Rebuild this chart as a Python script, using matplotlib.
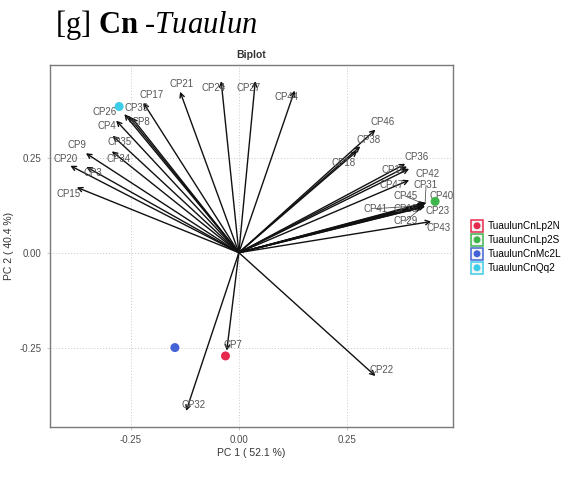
import numpy as np
import matplotlib
matplotlib.use("Agg")
import matplotlib.pyplot as plt
from matplotlib.legend_handler import HandlerBase
from matplotlib.patches import Rectangle, Circle

plt.rcParams['font.family'] = ['Liberation Sans', 'DejaVu Sans']
plt.rcParams['mathtext.fontset'] = 'custom'
plt.rcParams['mathtext.rm'] = 'Liberation Serif'
plt.rcParams['mathtext.bf'] = 'Liberation Serif:bold'
plt.rcParams['mathtext.it'] = 'Liberation Serif:italic'

# sample scores (PC1, PC2)
samples = ['TuaulunCnLp2N', 'TuaulunCnLp2S', 'TuaulunCnMc2L', 'TuaulunCnQq2']
sample_pc1 = [-0.031, 0.454, -0.148, -0.277]
sample_pc2 = [-0.272, 0.135, -0.250, 0.385]
sample_colors = ['#E8294F', '#3DB54A', '#4463D6', '#3CCDE8']

# variable loadings
variables = ['CP17', 'CP21', 'CP24', 'CP27', 'CP44', 'CP26', 'CP39', 'CP8', 'CP4',
             'CP35', 'CP9', 'CP34', 'CP20', 'CP3', 'CP15', 'CP46', 'CP38', 'CP18',
             'CP36', 'CP11', 'CP42', 'CP47', 'CP31', 'CP45', 'CP40', 'CP41', 'CP19',
             'CP23', 'CP29', 'CP43', 'CP7', 'CP32', 'CP22']
load_pc1 = [-0.221, -0.136, -0.041, 0.038, 0.129, -0.265, -0.256, -0.248, -0.284,
            -0.292, -0.354, -0.294, -0.390, -0.353, -0.375, 0.316, 0.281, 0.274,
            0.385, 0.389, 0.394, 0.394, 0.431, 0.429, 0.434, 0.427, 0.429,
            0.431, 0.424, 0.445, -0.028, -0.122, 0.316]
load_pc2 = [0.395, 0.424, 0.452, 0.452, 0.427, 0.365, 0.360, 0.356, 0.348,
            0.308, 0.262, 0.267, 0.229, 0.226, 0.172, 0.324, 0.280, 0.268,
            0.234, 0.227, 0.221, 0.191, 0.132, 0.128, 0.131, 0.124, 0.126,
            0.122, 0.119, 0.082, -0.258, -0.417, -0.325]

# repelled label positions
label_pos = {
    'CP17': (-0.203, 0.415), 'CP21': (-0.132, 0.444), 'CP24': (-0.059, 0.433),
    'CP27': (0.022, 0.434), 'CP44': (0.111, 0.409), 'CP26': (-0.311, 0.370),
    'CP39': (-0.236, 0.381), 'CP8': (-0.226, 0.344), 'CP4': (-0.306, 0.334),
    'CP35': (-0.276, 0.292), 'CP9': (-0.374, 0.283), 'CP34': (-0.279, 0.248),
    'CP20': (-0.400, 0.248), 'CP3': (-0.337, 0.210), 'CP15': (-0.394, 0.155),
    'CP46': (0.333, 0.344), 'CP38': (0.299, 0.297), 'CP18': (0.242, 0.236),
    'CP36': (0.412, 0.253), 'CP11': (0.358, 0.219), 'CP42': (0.437, 0.208),
    'CP47': (0.354, 0.177), 'CP31': (0.433, 0.177), 'CP45': (0.385, 0.149),
    'CP40': (0.470, 0.149), 'CP41': (0.316, 0.116), 'CP19': (0.385, 0.114),
    'CP23': (0.460, 0.109), 'CP29': (0.385, 0.083), 'CP43': (0.461, 0.066),
    'CP7': (-0.013, -0.243), 'CP32': (-0.105, -0.400), 'CP22': (0.331, -0.308),
}
with_segment = ['CP31', 'CP45', 'CP41', 'CP29']

ticks = [-0.25, 0.00, 0.25]


class BoxDot(HandlerBase):
    def create_artists(self, legend, orig_handle, xdescent, ydescent,
                       width, height, fontsize, trans):
        c = orig_handle.get_facecolor()[0]
        s = height * 1.3
        cx = width / 2 - xdescent
        cy = height / 2 - ydescent
        box = Rectangle((cx - s / 2, cy - s / 2), s, s, facecolor='#f4f4f4',
                        edgecolor=c, lw=1.1, transform=trans)
        dot = Circle((cx, cy), s * 0.3, facecolor=c, edgecolor='none',
                     transform=trans)
        return [box, dot]


fig = plt.figure(figsize=(5.68, 4.97), dpi=100)
ax = fig.add_axes([0.088, 0.141, 0.710, 0.728])

ax.set_xlim(-0.437, 0.496)
ax.set_ylim(-0.459, 0.494)

for t in ticks:
    ax.axvline(t, color='#c8c8c8', lw=0.7, ls=(0, (1, 2)), zorder=0)
    ax.axhline(t, color='#c8c8c8', lw=0.7, ls=(0, (1, 2)), zorder=0)

for name, x, y in zip(variables, load_pc1, load_pc2):
    ax.annotate('', xy=(x, y), xytext=(0, 0),
                arrowprops=dict(arrowstyle='->', color='#111111', lw=1.0,
                                shrinkA=0, shrinkB=0, mutation_scale=8))
    lx, ly = label_pos[name]
    if name in with_segment:
        ax.plot([lx, x], [ly, y], color='#555555', lw=0.6, zorder=2)
    ax.text(lx, ly, name, fontsize=7, color='#555555', ha='center',
            va='center', zorder=3)

handles = []
for name, x, y, c in zip(samples, sample_pc1, sample_pc2, sample_colors):
    h = ax.scatter([x], [y], s=42, color=c, edgecolors='none', zorder=4,
                   label=name)
    handles.append(h)

ax.set_xticks(ticks)
ax.set_yticks(ticks)
ax.set_xticklabels(['-0.25', '0.00', '0.25'])
ax.set_yticklabels(['-0.25', '0.00', '0.25'])
ax.tick_params(labelsize=7, labelcolor='#4d4d4d', length=2.5,
               color='#bbbbbb', width=0.6)
for sp in ax.spines.values():
    sp.set_color('#7a7a7a')
    sp.set_linewidth(1.0)

ax.set_xlabel('PC 1 ( 52.1 %)', fontsize=7.5, color='#333333', labelpad=2)
ax.set_ylabel('PC 2 ( 40.4 %)', fontsize=7.5, color='#333333', labelpad=4)
ax.set_title('Biplot', fontsize=7.5, fontweight='bold', color='#333333', pad=5)

fig.legend(handles=handles, labels=samples, handler_map={type(handles[0]): BoxDot()},
           loc='upper left', bbox_to_anchor=(0.824, 0.563), frameon=False,
           fontsize=7.2, handlelength=1.0, handleheight=1.0, handletextpad=0.6,
           labelspacing=0.4, borderaxespad=0)

fig.text(0.097, 0.934, r'[g] $\mathbf{Cn}$ -$\mathit{Tuaulun}$',
         fontsize=22, family='Liberation Serif', ha='left', va='baseline')

fig.savefig('out.png', dpi=100, facecolor='white')
